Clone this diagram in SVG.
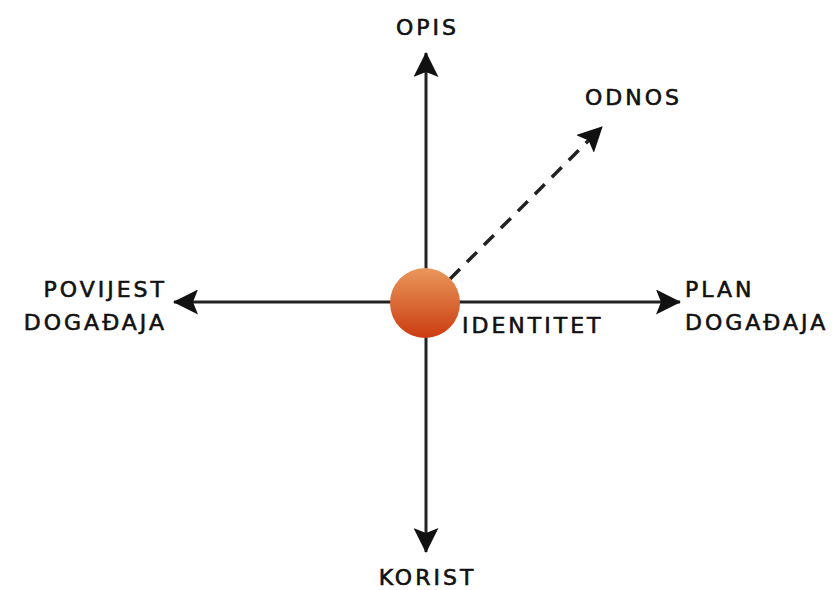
<svg xmlns="http://www.w3.org/2000/svg" width="837" height="590" viewBox="0 0 837 590">
  <style>
    .axis { stroke: #222; stroke-width: 3; fill: none; }
    .dash { stroke: #222; stroke-width: 3.5; fill: none; stroke-dasharray: 14 10; }
    .lbl { font-family: "DejaVu Sans", "Liberation Sans", sans-serif; font-size: 22px; fill: #111; stroke: #111; stroke-width: 0.6px; letter-spacing: 3px; }
  </style>
  <defs>
    <marker id="head" viewBox="0 0 25 25" refX="24" refY="12.5" markerWidth="25" markerHeight="25" markerUnits="userSpaceOnUse" orient="auto">
      <path d="M0,0 L25,12.5 L0,25 L5,12.5 Z" fill="#111"/>
    </marker>
    <linearGradient id="ball" x1="0" y1="0" x2="0" y2="1">
      <stop offset="0" stop-color="#E9985C"/>
      <stop offset="1" stop-color="#CB3C10"/>
    </linearGradient>
  </defs>

  <g id="connectors">
    <line class="axis" x1="426" y1="302" x2="426" y2="53" marker-end="url(#head)"/>
    <line class="axis" x1="426" y1="302" x2="426" y2="552" marker-end="url(#head)"/>
    <line class="axis" x1="426" y1="302" x2="174" y2="302" marker-end="url(#head)"/>
    <line class="axis" x1="426" y1="302" x2="680" y2="302" marker-end="url(#head)"/>
    <line class="dash" x1="450" y1="279" x2="602" y2="127" marker-end="url(#head)"/>
  </g>

  <g id="identitet">
    <circle cx="425" cy="303" r="35" fill="url(#ball)"/>
    <text class="lbl" x="462" y="333">IDENTITET</text>
  </g>
  <g id="opis">
    <text class="lbl" x="427.5" y="35" text-anchor="middle">OPIS</text>
  </g>
  <g id="odnos">
    <text class="lbl" x="585" y="105">ODNOS</text>
  </g>
  <g id="povijest">
    <text class="lbl" x="167" y="297" text-anchor="end">POVIJEST</text>
    <text class="lbl" x="167" y="330" text-anchor="end">DOGAĐAJA</text>
  </g>
  <g id="plan">
    <text class="lbl" x="685" y="297">PLAN</text>
    <text class="lbl" x="685" y="330">DOGAĐAJA</text>
  </g>
  <g id="korist">
    <text class="lbl" x="427.5" y="585" text-anchor="middle">KORIST</text>
  </g>
</svg>
